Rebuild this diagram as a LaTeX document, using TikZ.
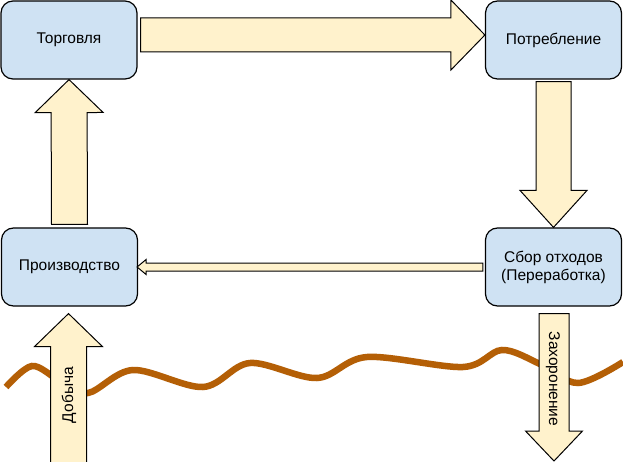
\documentclass[tikz,border=0pt]{standalone}
\usepackage{fontspec}
\setmainfont{Liberation Sans}
\usetikzlibrary{calc}
\definecolor{boxblue}{HTML}{CFE2F3}
\definecolor{arrowfill}{HTML}{FFF2CC}
\definecolor{wavecol}{HTML}{B45F06}
\tikzset{
  box/.style={draw=black, line width=1.2pt, fill=boxblue, rounded corners=12pt,
    minimum width=136pt, minimum height=78pt, align=center, inner sep=0pt,
    font=\fontsize{15.5}{18}\selectfont},
  fat/.style n args={3}{draw=black, line width=1pt, fill=arrowfill, line join=miter,
    to path={
      ($(\tikztostart)!#1!90:(\tikztotarget)$)
      -- ($(\tikztotarget)!#3!(\tikztostart)!#1!-90:(\tikztostart)$)
      -- ($(\tikztotarget)!#3!(\tikztostart)!#2!-90:(\tikztostart)$)
      -- (\tikztotarget)
      -- ($(\tikztotarget)!#3!(\tikztostart)!#2!90:(\tikztostart)$)
      -- ($(\tikztotarget)!#3!(\tikztostart)!#1!90:(\tikztostart)$)
      -- ($(\tikztostart)!#1!-90:(\tikztotarget)$)
      -- cycle}},
  lbl/.style={font=\fontsize{15.5}{18}\selectfont, inner sep=0pt},
  wave/.style={draw=wavecol, line width=6.5pt, line cap=butt}
}
\begin{document}
\begin{tikzpicture}[x=1pt,y=-1pt]
\fill[white] (0,0) rectangle (623,462);
\useasboundingbox (0,0) rectangle (623,462);

% boxes
\node[box] (A) at (69,40) {Торговля};
\node[box] (B) at (553.5,40) {Потребление};
\node[box] (C) at (69.5,267) {Производство};
\node[box] (D) at (553.5,267) {Сбор отходов\\(Переработка)};

% wave
\draw[wave] plot[smooth, tension=0.55] coordinates {
  (6,387) (32,366) (60,381) (88,393) (133,370) (203,387) (250,363)
  (317,378) (367,357) (463,367) (502,350) (540,364) (578,383) (623,362)};

% connector end points
\coordinate (s1) at ($(A.east)+(3,-5)$);
\coordinate (t1) at (B.west |- s1);
\coordinate (s2) at ($(B.south)+(0,2)$);
\coordinate (t2) at (D.north);
\coordinate (s3) at ($(C.north)+(0,-3)$);
\coordinate (t3) at (A.south);
\coordinate (s4) at ($(D.west)+(-2,0)$);
\coordinate (t4) at ($(C.east)+(-1,0)$);
\coordinate (s5) at (68.5,480);
\coordinate (t5) at ($(C.south)+(-1,7)$);
\coordinate (s6) at ($(D.south)+(0.5,7)$);
\coordinate (t6) at (554,461);

% arrows
\draw[fat={17pt}{35pt}{34pt}] (s1) to (t1);
\draw[fat={17.5pt}{33.5pt}{37pt}] (s2) to (t2);
\draw[fat={18pt}{34pt}{33pt}] (s3) to (t3);
\draw[fat={4pt}{7.5pt}{9pt}] (s4) to (t4);
\draw[fat={18pt}{34pt}{33pt}] (s5) to (t5);
\draw[fat={15pt}{28.5pt}{30pt}] (s6) to (t6);

% arrow labels
\node[lbl, rotate=90] (dob) at (69,395) {Добыча};
\node[lbl, rotate=-90] (zah) at (553,379) {Захоронение};
\end{tikzpicture}
\end{document}
